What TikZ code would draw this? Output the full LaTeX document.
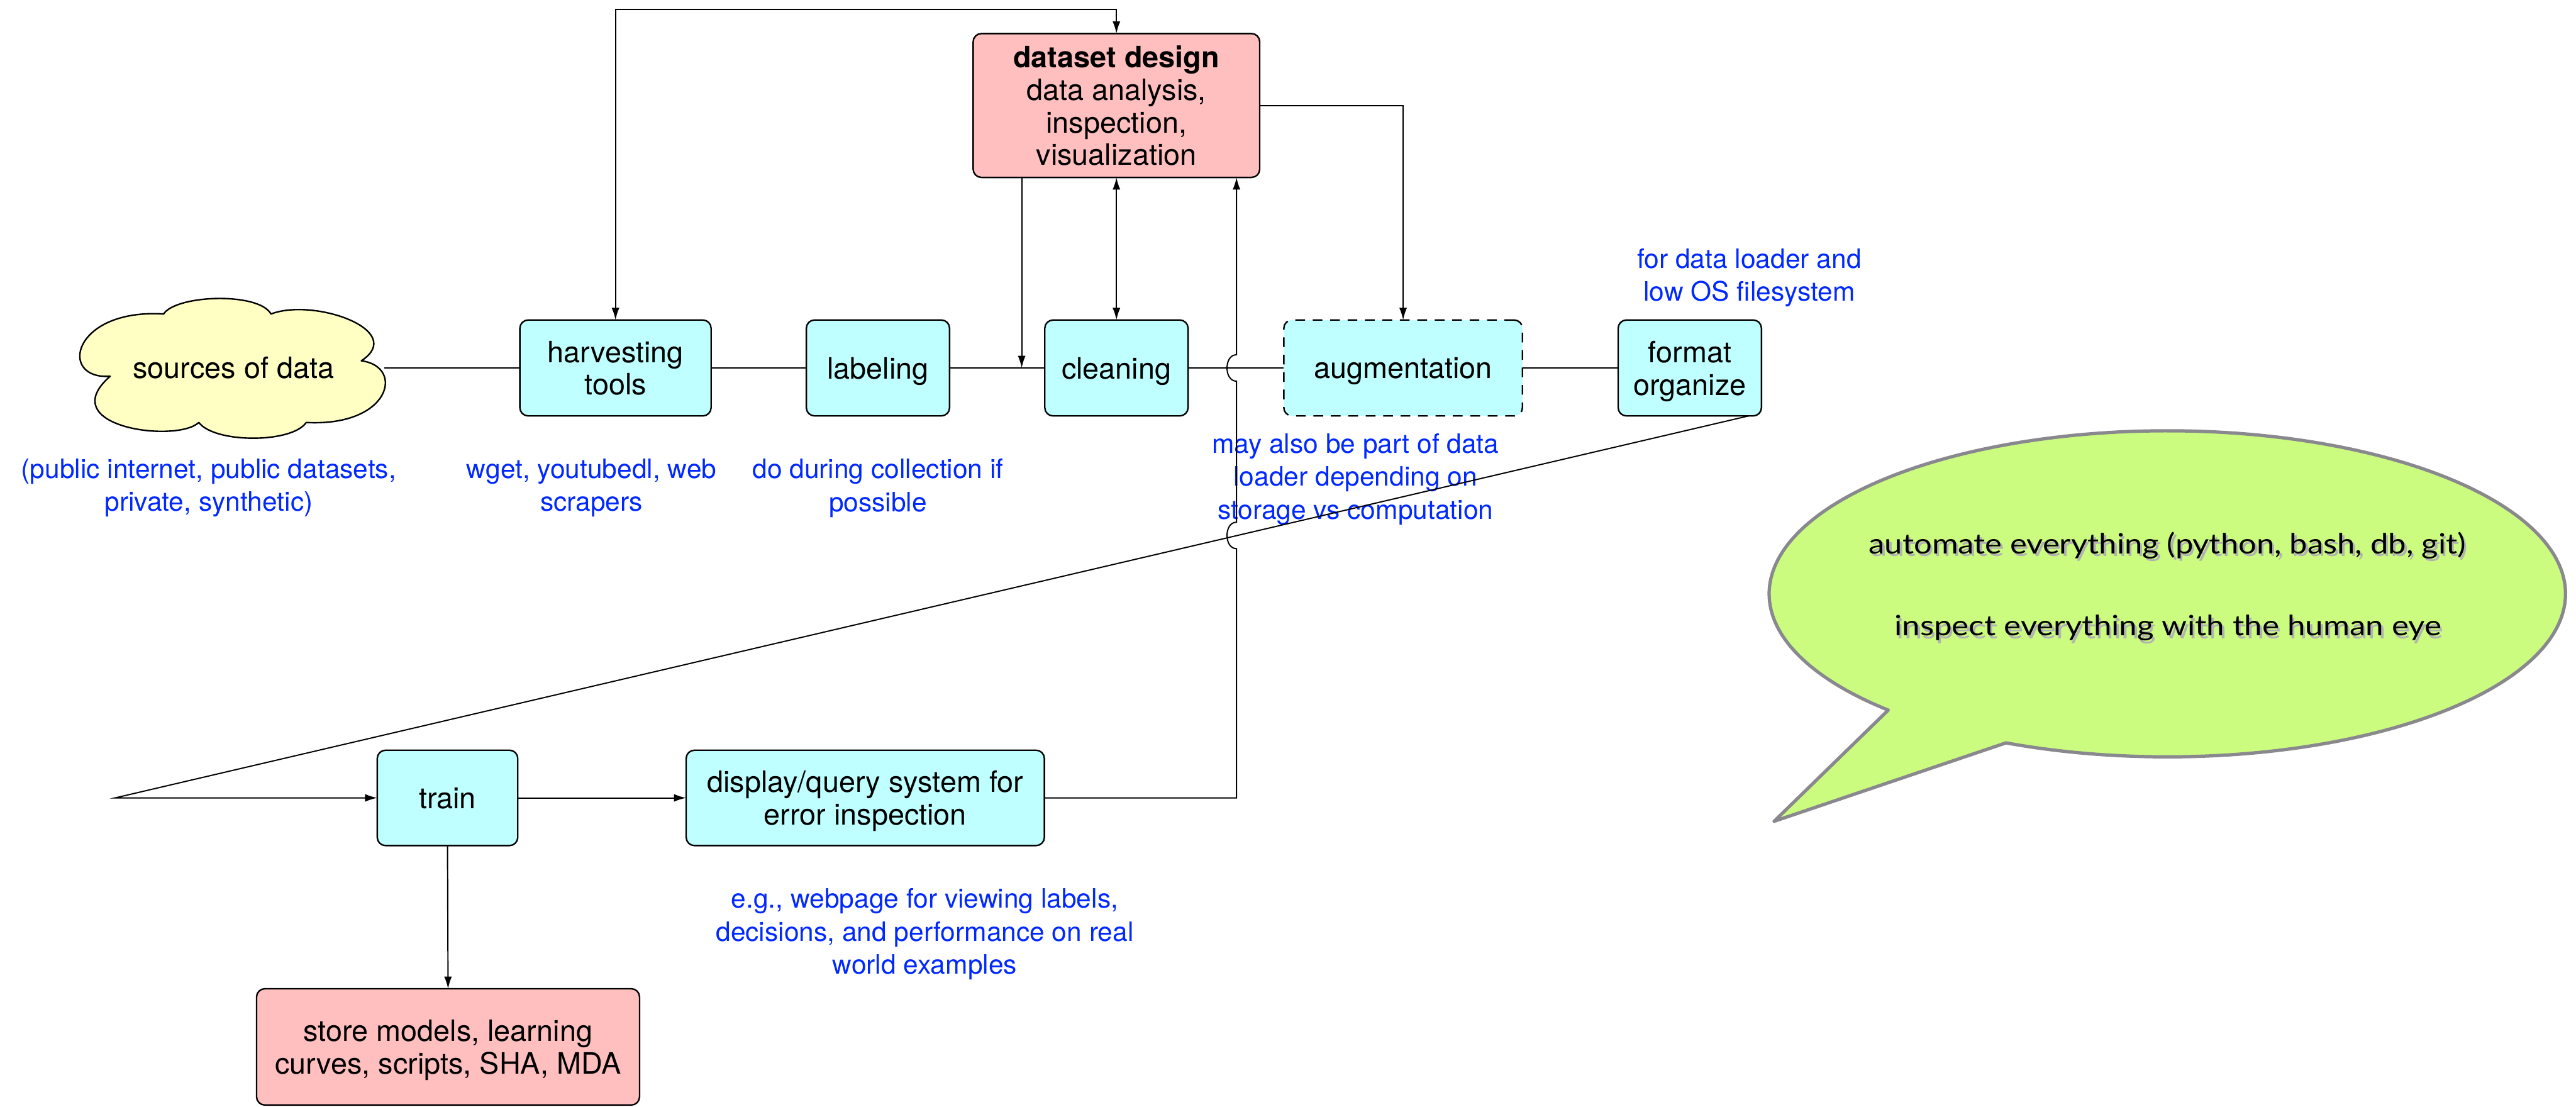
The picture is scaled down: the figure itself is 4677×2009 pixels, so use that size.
\documentclass[tikz,border=0pt]{standalone}
\usepackage{fontspec}
\setmainfont{TeX Gyre Heros}
\newfontfamily\bubblefont{Lato}
\usetikzlibrary{arrows.meta,calc}

\definecolor{boxcyan}{RGB}{191,255,255}
\definecolor{boxpink}{RGB}{255,191,191}
\definecolor{cloudyellow}{RGB}{255,255,196}
\definecolor{notegreen}{RGB}{203,252,128}
\definecolor{notegray}{RGB}{136,136,142}
\definecolor{noteblue}{RGB}{0,40,255}

\begin{document}
\begin{tikzpicture}[x=0.01cm,y=-0.01cm,
  every node/.style={inner sep=0pt,outer sep=0pt},
  boxfont/.style={font=\fontsize{15.2}{16.8}\selectfont},
  stage/.style={boxfont,draw=black,line width=0.77pt,rounded corners=0.15cm,
    fill=boxcyan,align=center,minimum height=1.74cm,text depth=0pt},
  keybox/.style={stage,fill=boxpink},
  note/.style={font=\fontsize{13.8}{17}\selectfont,text=noteblue,align=center},
  conn/.style={line width=0.63pt},
  tip/.style={-{Latex[length=6.3pt,width=4pt]}},
  bothtips/.style={{Latex[length=6.3pt,width=4pt]}-{Latex[length=6.3pt,width=4pt]}},
  bubbletext/.style={font=\bubblefont\fontsize{14.5}{17}\selectfont,anchor=base}
]
\useasboundingbox (0,0) rectangle (4677,2009);

% ---- cloud outline for the data sources ----
\draw[line width=0.77pt,fill=cloudyellow,line join=round]
  (200,683) .. controls (105,690) and (130,560) .. (297,570)
  .. controls (320,535) and (470,530) .. (492,570)
  .. controls (570,540) and (740,600) .. (656,655)
  .. controls (735,665) and (710,775) .. (556,767)
  .. controls (530,805) and (390,805) .. (361,767)
  .. controls (320,805) and (95,775) .. cycle;
\node[boxfont,minimum width=5.46cm] (src) at (424,668) {sources of data};

% ---- collection pipeline ----
\node[stage,minimum width=3.47cm] (harvest) at (1117.5,668) {harvesting\\tools};
\node[stage,minimum width=2.6cm] (label) at (1594,668) {labeling};
\node[stage,minimum width=2.6cm] (clean) at (2027,668) {cleaning};
\node[stage,minimum width=4.33cm,dash pattern=on 5pt off 4pt] (aug) at (2547.5,668) {augmentation};
\node[stage,minimum width=2.6cm] (fmt) at (3068,668) {format\\organize};

\node[keybox,minimum width=5.2cm,minimum height=2.61cm] (design) at (2027,191.5)
  {\textbf{dataset design}\\data analysis,\\inspection,\\visualization};

% ---- training loop ----
\node[stage,minimum width=2.55cm,minimum height=1.73cm] (train) at (812.5,1448.5) {train};
\node[stage,minimum width=6.5cm,minimum height=1.73cm] (disp) at (1571,1448.5)
  {display/query system for\\error inspection};
\node[keybox,minimum width=6.95cm,minimum height=2.11cm] (store) at (813.5,1900.5)
  {store models, learning\\curves, scripts, SHA, MDA};

% ---- notes ----
\node[note] (n1) at (379,886) {(public internet, public datasets,\\private, synthetic)};
\node[note] (n2) at (1074,886) {wget, youtubedl, web\\scrapers};
\node[note] (n3) at (1594,886) {do during collection if\\possible};
\node[note] (n4) at (2461,870) {may also be part of data\\loader depending on\\storage vs computation};
\node[note] (n5) at (3176,504) {for data loader and\\low OS filesystem};
\node[note] (n6) at (1679,1696) {e.g., webpage for viewing labels,\\decisions, and performance on real\\world examples};

% ---- helper points ----
\coordinate (ytop) at (0,17);
\coordinate (j1) at (1855,668);
\coordinate (hop0) at (2245,668);
\coordinate (hop1) at (2245,972);
\coordinate (bend) at (209,0);
\coordinate (fmtout) at (3175,755);

% ---- connectors ----
\draw[conn] (src.east) -- (harvest.west);
\draw[conn] (harvest.east) -- (label.west);
\draw[conn] (label.east) -- (clean.west);
\draw[conn] (clean.east) -- (aug.west);
\draw[conn] (aug.east) -- (fmt.west);

\draw[conn,bothtips] (harvest.north) -- (harvest.north |- ytop) -- (design.north |- ytop) -- (design.north);
\draw[conn,tip] (design.east) -- (aug.north |- design.east) -- (aug.north);
\draw[conn,tip] (design.south -| j1) -- (j1);
\draw[conn,bothtips] (design.south) -- (clean.north);

\draw[conn,tip] (fmtout) -- (bend |- train.west) -- (train.west);
\draw[conn,tip] (train.east) -- (disp.west);
\draw[conn,tip] (train.south) -- (store.north);

\draw[conn,tip] (disp.east) -| ($(hop1)+(0,24)$)
  .. controls ($(hop1)+(-23,24)$) and ($(hop1)+(-23,-24)$) .. ($(hop1)+(0,-24)$)
  -- ($(hop0)+(0,24)$)
  .. controls ($(hop0)+(-23,24)$) and ($(hop0)+(-23,-24)$) .. ($(hop0)+(0,-24)$)
  -- (design.south -| hop0);

% ---- speech bubble ----
\coordinate (tail) at (3221,1491);
\draw[notegray,line width=1.7pt,fill=notegreen,line join=round]
  (tail) -- plot[domain=113.9:-225.5,samples=300,variable=\t]
  ({3935+723*cos(\t)},{1078+296*sin(\t)}) -- cycle;

\node[bubbletext,text=black!30] (s1) at (3939,1010)
  {\resizebox{10.83cm}{\height}{automate everything (python, bash, db, git)}};
\node[bubbletext,text=black!30] (s2) at (3940,1159)
  {\resizebox{9.92cm}{\height}{inspect everything with the human eye}};
\node[bubbletext] (b1) at (3935,1005)
  {\resizebox{10.83cm}{\height}{automate everything (python, bash, db, git)}};
\node[bubbletext] (b2) at (3936,1154)
  {\resizebox{9.92cm}{\height}{inspect everything with the human eye}};
\end{tikzpicture}
\end{document}
